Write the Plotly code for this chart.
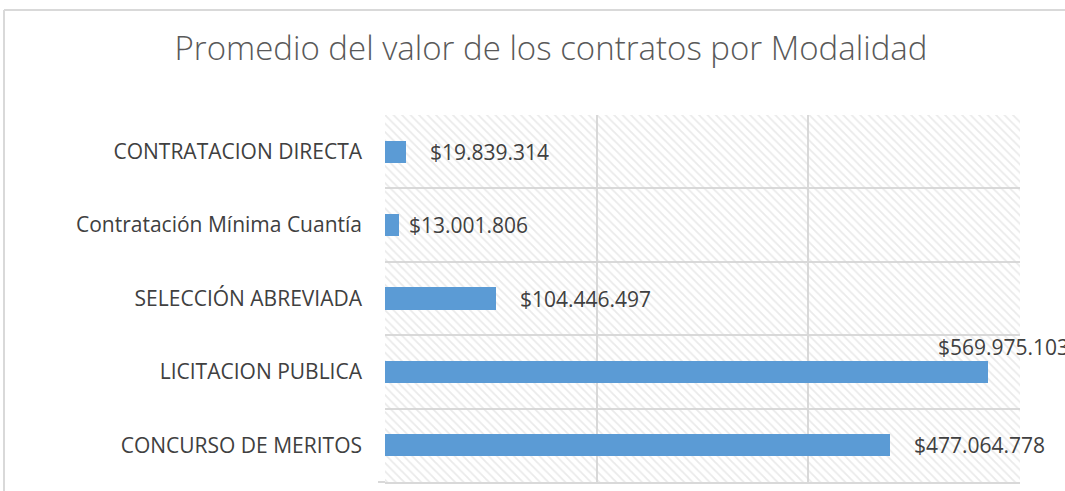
import plotly.graph_objects as go

categories = ["CONTRATACION DIRECTA", "Contratación Mínima Cuantía", "SELECCIÓN ABREVIADA",
              "LICITACION PUBLICA", "CONCURSO DE MERITOS"]
values = [19839314, 13001806, 104446497, 569975103, 477064778]
labels = ["$19.839.314", "$13.001.806", "$104.446.497", "$569.975.103", "$477.064.778"]
x_max = 600000000
x_ticks = [0, 200000000, 400000000, 600000000]

FONT = "Open Sans"
fig = go.Figure()

# hatched plot-area background (transparent so gridlines show)
fig.add_trace(go.Bar(
    y=categories, x=[x_max] * len(categories), orientation="h", width=1,
    marker=dict(color="rgba(0,0,0,0)", line=dict(width=0),
                pattern=dict(shape="\\", fgcolor="#d6d6d6", bgcolor="rgba(0,0,0,0)",
                             size=6, solidity=0.3)),
    hoverinfo="skip", showlegend=False))

fig.add_trace(go.Bar(
    y=categories, x=values, orientation="h", width=0.3,
    marker=dict(color="#5b9bd5", line=dict(width=0)), showlegend=False))

xshifts = [22, 8, 22, -52, 22]
yshifts = [0, 0, 0, 25, 0]
for c, v, t, xs, ys in zip(categories, values, labels, xshifts, yshifts):
    fig.add_annotation(x=v, y=c, xref="x", yref="y", text=t, showarrow=False,
                       xanchor="left", yanchor="middle", xshift=xs, yshift=ys,
                       font=dict(family=FONT, size=21, color="#404040"))

L, R, T, B = 385, 45, 115, 9
W, H = 1065, 491
pw, ph = W - L - R, H - T - B
# chart-area border (top and left)
fig.add_shape(type="line", xref="paper", yref="paper",
              x0=(4 - L) / pw, x1=(W + 5 - L) / pw, y0=(H - B - 10) / ph, y1=(H - B - 10) / ph,
              line=dict(color="#d9d9d9", width=2))
fig.add_shape(type="line", xref="paper", yref="paper",
              x0=(4 - L) / pw, x1=(4 - L) / pw, y0=(H - B - 10) / ph, y1=-0.1,
              line=dict(color="#d9d9d9", width=2))
# short tick at bottom-left
fig.add_shape(type="line", xref="paper", yref="paper",
              x0=(378 - L) / pw, x1=0, y0=0, y1=0, line=dict(color="#d9d9d9", width=2))

fig.update_layout(
    width=W, height=H, barmode="overlay", bargap=0,
    margin=dict(l=L, r=R, t=T, b=B),
    paper_bgcolor="white", plot_bgcolor="white",
    title=dict(text="Promedio del valor de los contratos por Modalidad",
               x=551 / W, xanchor="center", y=1 - 48 / H, yanchor="middle",
               font=dict(family=FONT, size=33, color="#595959", weight=300)),
    xaxis=dict(range=[0, x_max], tickvals=x_ticks, showticklabels=False,
               showgrid=True, gridcolor="#d9d9d9", gridwidth=2, zeroline=False,
               showline=True, linecolor="#d9d9d9", linewidth=2, mirror=False, fixedrange=True),
    yaxis=dict(autorange="reversed", tickson="boundaries", showgrid=True,
               gridcolor="#d9d9d9", gridwidth=2, ticks="", showline=False,
               tickfont=dict(family=FONT, size=21, color="#404040"), ticklabelstandoff=22),
)
fig.write_html("out.html", config={"displayModeBar": False},
               post_script="document.body.style.margin='0';document.body.style.padding='0';")
